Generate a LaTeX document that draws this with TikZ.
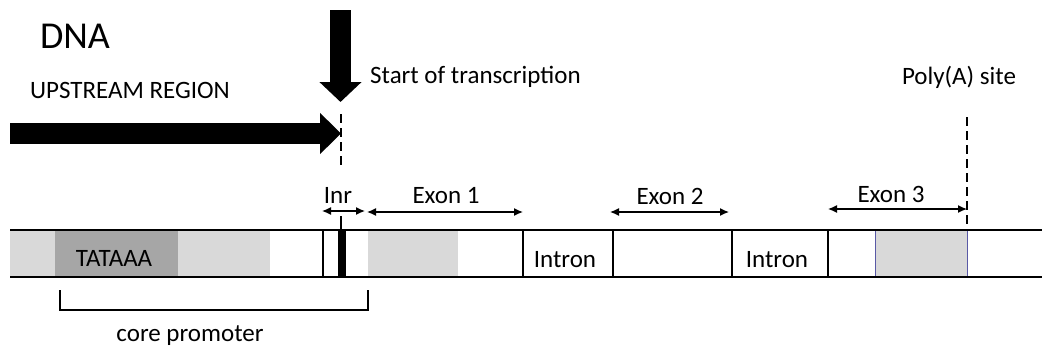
\documentclass[tikz,border=0pt]{standalone}
\usepackage{fontspec}
\setmainfont{Carlito}
\usetikzlibrary{positioning,arrows.meta}

\begin{document}
\begin{tikzpicture}[x=1pt,y=-1pt]
\tikzstyle{lbl}=[inner sep=0pt,font=\fontsize{25}{28}\selectfont]
\tikzstyle{strand}=[line width=2pt]
\tikzstyle{cut}=[line width=1.8pt]
\tikzstyle{span}=[{Latex[length=9pt,width=8pt]}-{Latex[length=9pt,width=8pt]},line width=1.3pt]
\tikzstyle{siteline}=[dash pattern=on 9pt off 5pt,line width=2.2pt]
\useasboundingbox (0,0) rectangle (1042,349);
    % shaded regions of the strand
    \fill[gray!30] (10,230) rectangle (55,277);
    \fill[gray!70] (55,230) rectangle (178,277);
    \fill[gray!30] (178,230) rectangle (270,277);
    \fill[gray!30] (368,230) rectangle (458,277);
    \draw[fill=gray!30,draw=blue!30!gray,line width=1pt] (875,230) rectangle (967,277);
    \draw[strand] (10,230) -- (1042,230);
    \draw[strand] (10,277) -- (1042,277);
    \foreach \x in {323,523,613,732,828}
      \draw[cut] (\x,230) -- (\x,277);
    \fill (338,230) rectangle (346,277);
    % points
    \coordinate (tss) at (341,114);
    \coordinate (tssend) at (341,168);
    \coordinate (poly) at (967,117);
    \coordinate (polyend) at (967,230);
    \coordinate (up) at (10,133.5);
    \coordinate (down) at (340.5,10);
    \coordinate (i1) at (322,211);
    \coordinate (i2) at (365,211);
    \coordinate (e1a) at (367,212);
    \coordinate (e1b) at (523,212);
    \coordinate (e2a) at (610,212);
    \coordinate (e2b) at (729,212);
    \coordinate (e3a) at (828,209);
    \coordinate (e3b) at (967,209);
    \coordinate (pl) at (60,290);
    \coordinate (pr) at (368,290);
    % labels
    \node[inner sep=0pt,font=\fontsize{38}{42}\selectfont] (dna) at (75,36) {DNA};
    \node[lbl] (upstream) at (130,90) {UPSTREAM REGION};
    \node[lbl,anchor=west] (start) at (370,77) {Start of transcription};
    \node[lbl] (polya) at (959,77) {Poly(A) site};
    \node[lbl] (inr) at (338,195) {Inr};
    \node[lbl] (exon1) at (446,196) {Exon 1};
    \node[lbl] (exon2) at (670,196) {Exon 2};
    \node[lbl] (exon3) at (891,194) {Exon 3};
    \node[lbl] (tata) at (114,258) {TATAAA};
    \node[lbl] (intron1) at (565,260) {Intron};
    \node[lbl] (intron2) at (777,260) {Intron};
    \node[lbl] (core) at (190,336) {core promoter};
    % big arrows
    \draw[line width=21pt,-{Triangle[length=21pt,width=40pt]}] (up) -- (tss |- up);
    \draw[line width=21pt,-{Triangle[length=20pt,width=41pt]}] (down) -- ++(0,92);
    \draw[siteline] (tss) -- (tssend);
    \draw[siteline] (poly) -- (polyend);
    \draw[line width=1.5pt] (341,216) -- (341,230);
    % spans
    \draw[span] (i1) -- (i2);
    \draw[span] (e1a) -- (e1b);
    \draw[span] (e2a) -- (e2b);
    \draw[span] (e3a) -- (e3b);
    \draw[cut] (pl) -- ++(0,20) -| (pr);
  \end{tikzpicture}
\end{document}
